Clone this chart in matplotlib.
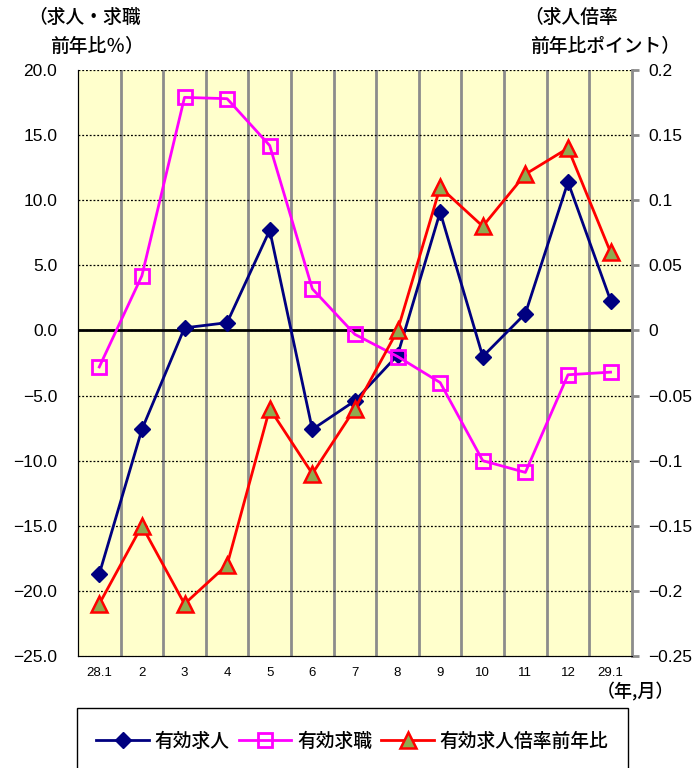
import matplotlib.pyplot as plt
from matplotlib.patches import Rectangle

plt.rcParams['font.family'] = ['Liberation Sans', 'Noto Sans CJK JP', 'DejaVu Sans']
jp = ['Noto Sans CJK JP', 'DejaVu Sans']

months = ['28.1', '2', '3', '4', '5', '6', '7', '8', '9', '10', '11', '12', '29.1']
kyujin = [-18.7, -7.6, 0.2, 0.6, 7.7, -7.6, -5.4, -1.9, 9.1, -2.0, 1.3, 11.4, 2.3]
kyushoku = [-2.8, 4.2, 17.9, 17.8, 14.2, 3.2, -0.3, -2.0, -4.0, -10.0, -10.9, -3.4, -3.2]
bairitsu = [-0.21, -0.15, -0.21, -0.18, -0.06, -0.11, -0.06, 0.0, 0.11, 0.08, 0.12, 0.14, 0.06]
left_ticks = [-25, -20, -15, -10, -5, 0, 5, 10, 15, 20]
right_ticks = [-0.25, -0.2, -0.15, -0.1, -0.05, 0, 0.05, 0.1, 0.15, 0.2]

fig = plt.figure(figsize=(6.95, 7.68), dpi=100)
ax = fig.add_axes([0.1122, 0.1458, 0.797, 0.763])
ax.set_facecolor('#FFFFCC')
x = list(range(len(months)))

# grid: gray verticals between months, dotted horizontals
for i in range(len(months) - 1):
    ax.axvline(i + 0.5, color='#8C8C8C', lw=2, zorder=1)
for yv in left_ticks[1:]:
    ax.axhline(yv, color='black', lw=0.9, ls=(0, (1.5, 1.5)), zorder=1)
ax.axhline(0, color='black', lw=2, zorder=2)

ax.plot(x, kyujin, color='#000080', lw=2, marker='D', ms=8, zorder=4)
ax.plot(x, kyushoku, color='#FF00FF', lw=2, marker='s', ms=10,
        mfc='none', mew=2, zorder=4)

ax2 = ax.twinx()
ax2.plot(x, bairitsu, color='#FF0000', lw=2, marker='^', ms=11,
         mfc='#8FAA50', mec='#FF0000', mew=1.8, zorder=5)

ax.set_xlim(-0.5, 12.5)
ax.set_ylim(-25, 20)
ax2.set_ylim(-0.25, 0.2)
ax.set_xticks(x)
ax.set_xticklabels(months, fontsize=9.5)
ax.set_yticks(left_ticks)
ax.set_yticklabels([('%.1f' % v).replace('-', '\u2212') for v in left_ticks], fontsize=12.5)
ax2.set_yticks(right_ticks)
ax2.set_yticklabels([('%g' % v).replace('-', '\u2212') for v in right_ticks], fontsize=12.5)
ax.tick_params(axis='x', length=0, pad=8)
ax.tick_params(axis='y', length=0, pad=15)
ax2.tick_params(axis='y', length=5, color='#8C8C8C', width=2, pad=7)
ax.spines['top'].set_visible(False)
ax2.spines['top'].set_visible(False)
ax2.spines['right'].set_color('#8C8C8C')
ax2.spines['right'].set_linewidth(2)
ax.spines['left'].set_color('black')
ax.spines['bottom'].set_linestyle((0, (1.5, 1.5)))

hdr = dict(fontsize=13.5, va='top', ha='left', family=jp, fontweight='medium')
fig.text(0.04, 0.99, '（求人・求職', **hdr)
fig.text(0.072, 0.952, '前年比％）', **hdr)
fig.text(0.755, 0.99, '（求人倍率', **hdr)
fig.text(0.762, 0.952, '前年比ポイント）', **hdr)
fig.text(0.97, 0.112, '（年,月）', fontsize=13, va='top', ha='right', family=jp,
         fontweight='medium')

# legend frame runs off the bottom edge
fig.patches.append(Rectangle((0.111, -0.05), 0.793, 0.128, transform=fig.transFigure,
                             fill=False, edgecolor='black', lw=1))
handles = ax.get_lines()[-2:] + ax2.get_lines()
fig.legend(handles, ['有効求人', '有効求職', '有効求人倍率前年比'], loc='center',
           bbox_to_anchor=(0.507, 0.035), ncol=3, frameon=False,
           prop={'family': jp, 'size': 13.5, 'weight': 'medium'},
           handlelength=2.8, columnspacing=0.5, handletextpad=0.3)

fig.savefig('out.png')
